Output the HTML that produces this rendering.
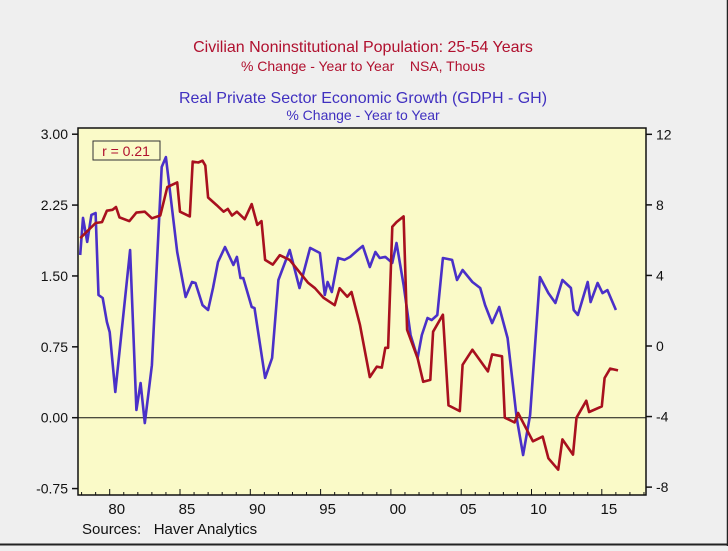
<!DOCTYPE html>
<html><head><meta charset="utf-8">
<style>
html,body{margin:0;padding:0;background:#efefef;}
body{width:728px;height:546px;overflow:hidden;font-family:"Liberation Sans",sans-serif;}
</style></head>
<body>
<svg id="chart" width="728" height="546" xmlns="http://www.w3.org/2000/svg">
<rect x="0" y="0" width="728" height="546" fill="#efefef"/>
<line x1="0" y1="544.5" x2="728" y2="544.5" stroke="#222" stroke-width="2"/>
<line x1="727.5" y1="0" x2="727.5" y2="546" stroke="#222" stroke-width="1.5"/>
<text x="363" y="52" text-anchor="middle" font-size="16" fill="#b0102e">Civilian Noninstitutional Population: 25-54 Years</text>
<text x="363" y="71" text-anchor="middle" font-size="14" fill="#b0102e" xml:space="preserve">% Change - Year to Year    NSA, Thous</text>
<text x="363" y="103" text-anchor="middle" font-size="16" fill="#4030c0">Real Private Sector Economic Growth (GDPH - GH)</text>
<text x="363" y="120" text-anchor="middle" font-size="14" fill="#4030c0">% Change - Year to Year</text>
<rect x="78" y="128" width="568" height="367" fill="#fafac8" stroke="#111" stroke-width="1.5"/>
<g id="axes"></g>
<g id="series"></g>
<rect x="93" y="141" width="67" height="19" fill="#fafac8" stroke="#333" stroke-width="1"/>
<text x="126" y="156" text-anchor="middle" font-size="14" fill="#b0102e">r = 0.21</text>
<text x="82" y="534" font-size="15" fill="#111" xml:space="preserve">Sources:   Haver Analytics</text>
</svg>
<script>
const popYears=[1977.9,1979.0,1979.45,1979.8,1980.2,1980.45,1980.7,1981.4,1981.9,1982.5,1983.0,1983.6,1984.1,1984.8,1985.0,1985.7,1985.9,1986.3,1986.6,1986.8,1987.0,1987.6,1988.1,1988.4,1988.7,1989.05,1989.6,1990.1,1990.5,1990.8,1991.05,1991.6,1992.1,1992.8,1994.1,1994.6,1995.2,1996.0,1996.35,1996.9,1997.2,1997.8,1998.5,1999.0,1999.35,1999.6,1999.8,2000.1,2000.4,2000.9,2001.15,2001.9,2002.3,2002.8,2003.0,2003.7,2004.1,2004.9,2005.1,2005.8,2006.9,2007.2,2007.9,2008.1,2008.8,2009.05,2010.1,2010.8,2011.2,2011.9,2012.2,2012.95,2013.2,2013.9,2014.1,2015.0,2015.2,2015.6,2016.15];
const popValues=[1.90,2.06,2.07,2.19,2.20,2.23,2.12,2.08,2.17,2.18,2.11,2.14,2.44,2.49,2.18,2.13,2.71,2.70,2.72,2.67,2.33,2.25,2.18,2.21,2.14,2.18,2.10,2.26,2.04,2.08,1.67,1.62,1.72,1.67,1.43,1.37,1.27,1.19,1.37,1.28,1.33,0.98,0.43,0.54,0.53,0.74,0.74,2.02,2.07,2.13,0.93,0.63,0.38,0.40,0.91,1.09,0.13,0.07,0.56,0.72,0.49,0.67,0.65,0.00,-0.05,0.05,-0.25,-0.20,-0.43,-0.55,-0.23,-0.39,0.00,0.18,0.06,0.12,0.42,0.52,0.50];
const gdpYears=[1977.9,1978.1,1978.4,1978.7,1979.0,1979.2,1979.5,1979.8,1980.0,1980.4,1981.45,1981.9,1982.2,1982.5,1983.0,1983.7,1984.0,1984.8,1985.4,1985.85,1986.1,1986.6,1987.0,1987.35,1987.7,1988.2,1988.8,1989.05,1989.3,1989.5,1990.1,1990.3,1991.05,1991.55,1992.0,1992.8,1993.5,1994.25,1994.95,1995.3,1995.5,1995.8,1996.25,1996.7,1997.1,1997.65,1998.0,1998.5,1998.9,1999.2,1999.6,2000.1,2000.4,2000.9,2001.4,2001.9,2002.2,2002.6,2002.9,2003.3,2003.7,2004.35,2004.7,2005.1,2005.8,2006.35,2006.7,2007.2,2007.7,2008.3,2008.95,2009.4,2009.9,2010.6,2011.2,2011.7,2012.2,2012.8,2013.0,2013.3,2014.0,2014.2,2014.7,2015.05,2015.4,2016.0];
const gdpValues=[5.16,7.26,5.90,7.43,7.54,2.89,2.72,1.36,0.79,-2.61,5.44,-3.63,-2.10,-4.37,-1.08,10.15,10.71,5.33,2.78,3.63,3.57,2.32,2.04,3.29,4.76,5.61,4.59,5.05,3.85,3.85,2.21,2.15,-1.81,-0.68,3.74,5.44,3.29,5.56,5.27,2.89,3.63,3.06,4.99,4.88,5.05,5.44,5.67,4.48,5.33,4.99,5.05,4.71,5.84,3.46,0.62,-0.68,0.62,1.59,1.47,1.76,4.99,4.88,3.74,4.31,3.63,3.29,2.32,1.30,2.21,0.45,-4.08,-6.18,-3.91,3.91,3.00,2.44,3.74,3.29,2.04,1.76,3.63,2.49,3.57,3.00,3.17,2.04];
const leftTicks=[3.00,2.25,1.50,0.75,0.00,-0.75];
const leftLabels=["3.00","2.25","1.50","0.75","0.00","-0.75"];
const rightTicks=[12,8,4,0,-4,-8];
const rightLabels=["12","8","4","0","-4","-8"];
const xTickYears=[1980,1985,1990,1995,2000,2005,2010,2015];
const xLabels=["80","85","90","95","00","05","10","15"];

const NS="http://www.w3.org/2000/svg";
function xs(yr){return 109.7+(yr-1980)*14.06;}
function yL(v){return 417.7-v*94.5;}
function yR(v){return 346-v*17.64;}
function mk(tag,attrs,parent){const e=document.createElementNS(NS,tag);for(const k in attrs)e.setAttribute(k,attrs[k]);parent.appendChild(e);return e;}
const axes=document.getElementById('axes');
const series=document.getElementById('series');

const zl=mk('line',{x1:78,x2:646,y1:yL(0),y2:yL(0),stroke:'#111','stroke-width':1},axes);



leftTicks.forEach((v,i)=>{
  const y=yL(v);
  const t=mk('line',{x1:72,x2:78,y1:y,y2:y,stroke:'#111','stroke-width':1.5},axes);
  
  
  const tx=mk('text',{x:68,y:y+5,'text-anchor':'end','font-size':14,fill:'#111'},axes);
  tx.textContent=leftLabels[i];
  
  
});
rightTicks.forEach((v,i)=>{
  const y=yR(v);
  const t=mk('line',{x1:646,x2:652,y1:y,y2:y,stroke:'#111','stroke-width':1.5},axes);
  
  
  const tx=mk('text',{x:656,y:y+5,'text-anchor':'start','font-size':14,fill:'#111'},axes);
  tx.textContent=rightLabels[i];
  
  
});
for(let yr=1978;yr<=2018;yr++){
  const x=xs(yr);
  if(x<78||x>646)continue;
  const major=(yr%5===0);
  const t=mk('line',{x1:x,x2:x,y1:495,y2:major?489:492,stroke:'#111','stroke-width':1},axes);
  
  
}
xTickYears.forEach((yr,i)=>{
  const tx=mk('text',{x:xs(yr+0.5),y:514,'text-anchor':'middle','font-size':15,fill:'#111'},axes);
  tx.textContent=xLabels[i];
  
  
});

const gp=mk('polyline',{points:gdpYears.map((y,i)=>xs(y).toFixed(1)+','+yR(gdpValues[i]).toFixed(1)).join(' '),fill:'none',stroke:'#4a30c8','stroke-width':2.6,'stroke-linejoin':'round'},series);


const pp=mk('polyline',{points:popYears.map((y,i)=>xs(y).toFixed(1)+','+yL(popValues[i]).toFixed(1)).join(' '),fill:'none',stroke:'#a8101e','stroke-width':2.6,'stroke-linejoin':'round'},series);


</script>
</body></html>
